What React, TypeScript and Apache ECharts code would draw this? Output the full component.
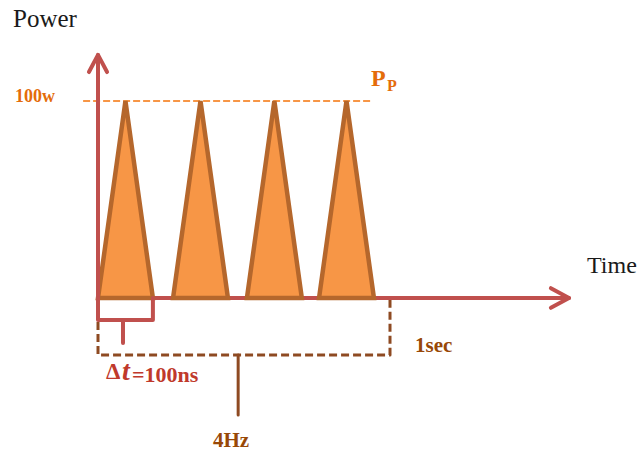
import React, { useEffect, useRef } from "react";
import * as echarts from "echarts";

// ---- data (schematic: time in seconds, power in W) ----
const pulseStarts = [0.0, 0.257, 0.51, 0.757]; // s
const pulseWidth = 0.188; // s (drawn width of each pulse)
const peakPower = 100; // W
const refLine = [[-0.051, 100], [0.942, 100]];
const powerAxis = [[0, -1], [0, 123.4]];
const powerArrow = [[-0.031, 114.7], [0, 123.4], [0.031, 114.7]];
const timeAxis = [[0, 0], [1.613, 0]];
const timeArrow = [[1.551, 5], [1.613, 0], [1.551, -5]];
const dtBracket = [[0, 0], [0, -11.2], [0.188, -11.2], [0.188, 0]];
const dtStem = [[0.0856, -11.2], [0.0856, -22.8]];
const secBox = [[0, 0], [0, -28.9], [1, -28.9], [1, 1]];
const hzStem = [[0.48, -28.9], [0.48, -59.4]];

// ---- layout ----
const W = 643;
const H = 452;
const ORIGIN_X = 98;
const ORIGIN_Y = 298;
const PX_PER_S = 292;
const PX_PER_W = 1.97;

const RED = "#c0504d";
const ORANGE = "#f79646";
const ORANGE_TEXT = "#e46c0a";
const PULSE_EDGE = "#b5672c";
const BROWN = "#8e4a22";
const BROWN_TEXT = "#984807";
const DT_RED = "#c0392b";
const SERIF = "'Liberation Serif', 'Times New Roman', serif";

const lineSeries = (data: number[][], color: string, width: number, type: any = "solid", z = 2) => ({
  type: "line",
  data,
  symbol: "none",
  silent: true,
  clip: false,
  z,
  lineStyle: { color, width, type, cap: type === "solid" ? "round" : "butt", join: "round" },
});

export default function App() {
  const ref = useRef<HTMLDivElement>(null);
  useEffect(() => {
    if (!ref.current) return;
    const chart = echarts.init(ref.current, undefined, { renderer: "svg" });
    const text = (t: string, x: number, y: number, size: number, fill: string, weight = "normal", style = "normal") => ({
      type: "text",
      x,
      y,
      style: {
        text: t,
        fill,
        font: `${style} ${weight} ${size}px ${SERIF}`,
        align: "left",
        verticalAlign: "middle",
      },
      z: 100,
    });
    chart.setOption({
      animation: false,
      grid: { left: 0, right: 0, top: 0, bottom: 0, containLabel: false },
      xAxis: {
        type: "value",
        min: -ORIGIN_X / PX_PER_S,
        max: (W - ORIGIN_X) / PX_PER_S,
        show: false,
      },
      yAxis: {
        type: "value",
        min: -(H - ORIGIN_Y) / PX_PER_W,
        max: ORIGIN_Y / PX_PER_W,
        show: false,
      },
      series: [
        { ...lineSeries(refLine, ORANGE, 2, [7, 3], 1) },
        { ...lineSeries(secBox, BROWN, 3, [8, 4], 1) },
        { ...lineSeries(hzStem, BROWN, 3, "solid", 1) },
        { ...lineSeries(timeAxis, RED, 4, "solid", 2) },
        { ...lineSeries(timeArrow, RED, 4, "solid", 2) },
        {
          type: "custom",
          z: 3,
          silent: true,
          clip: false,
          data: pulseStarts.map((s) => [s, s + pulseWidth / 2, s + pulseWidth, peakPower]),
          renderItem: (params: any, api: any) => {
            const s = api.value(0);
            const p = api.value(1);
            const e = api.value(2);
            const h = api.value(3);
            return {
              type: "polygon",
              shape: { points: [api.coord([s, 0]), api.coord([p, h]), api.coord([e, 0])] },
              style: { fill: ORANGE, stroke: PULSE_EDGE, lineWidth: 4.5, lineJoin: "miter" },
            };
          },
        },
        { ...lineSeries(powerAxis, RED, 4, "solid", 4) },
        { ...lineSeries(powerArrow, RED, 4, "solid", 4) },
        { ...lineSeries(dtBracket, RED, 4, "solid", 4) },
        { ...lineSeries(dtStem, RED, 4, "solid", 4) },
      ],
      graphic: [
        text("Power", 13, 18, 25, "#1a1a1a"),
        text("Time", 587, 265, 24, "#1a1a1a"),
        text("100w", 15, 96, 18, ORANGE_TEXT, "bold"),
        text("P", 371, 78, 24, ORANGE_TEXT, "bold"),
        text("P", 387, 85, 16, ORANGE_TEXT, "bold"),
        text("Δ", 106, 371, 23, DT_RED, "bold"),
        text("t", 122, 370, 28, DT_RED, "bold", "italic"),
        text("=100ns", 132, 374, 22, DT_RED, "bold"),
        text("1sec", 415, 345, 21, BROWN_TEXT, "bold"),
        text("4Hz", 213, 440, 21, BROWN_TEXT, "bold"),
      ],
    });
    return () => chart.dispose();
  }, []);
  return <div ref={ref} style={{ position: "fixed", left: 0, top: 0, width: W, height: H, background: "#fff" }} />;
}
